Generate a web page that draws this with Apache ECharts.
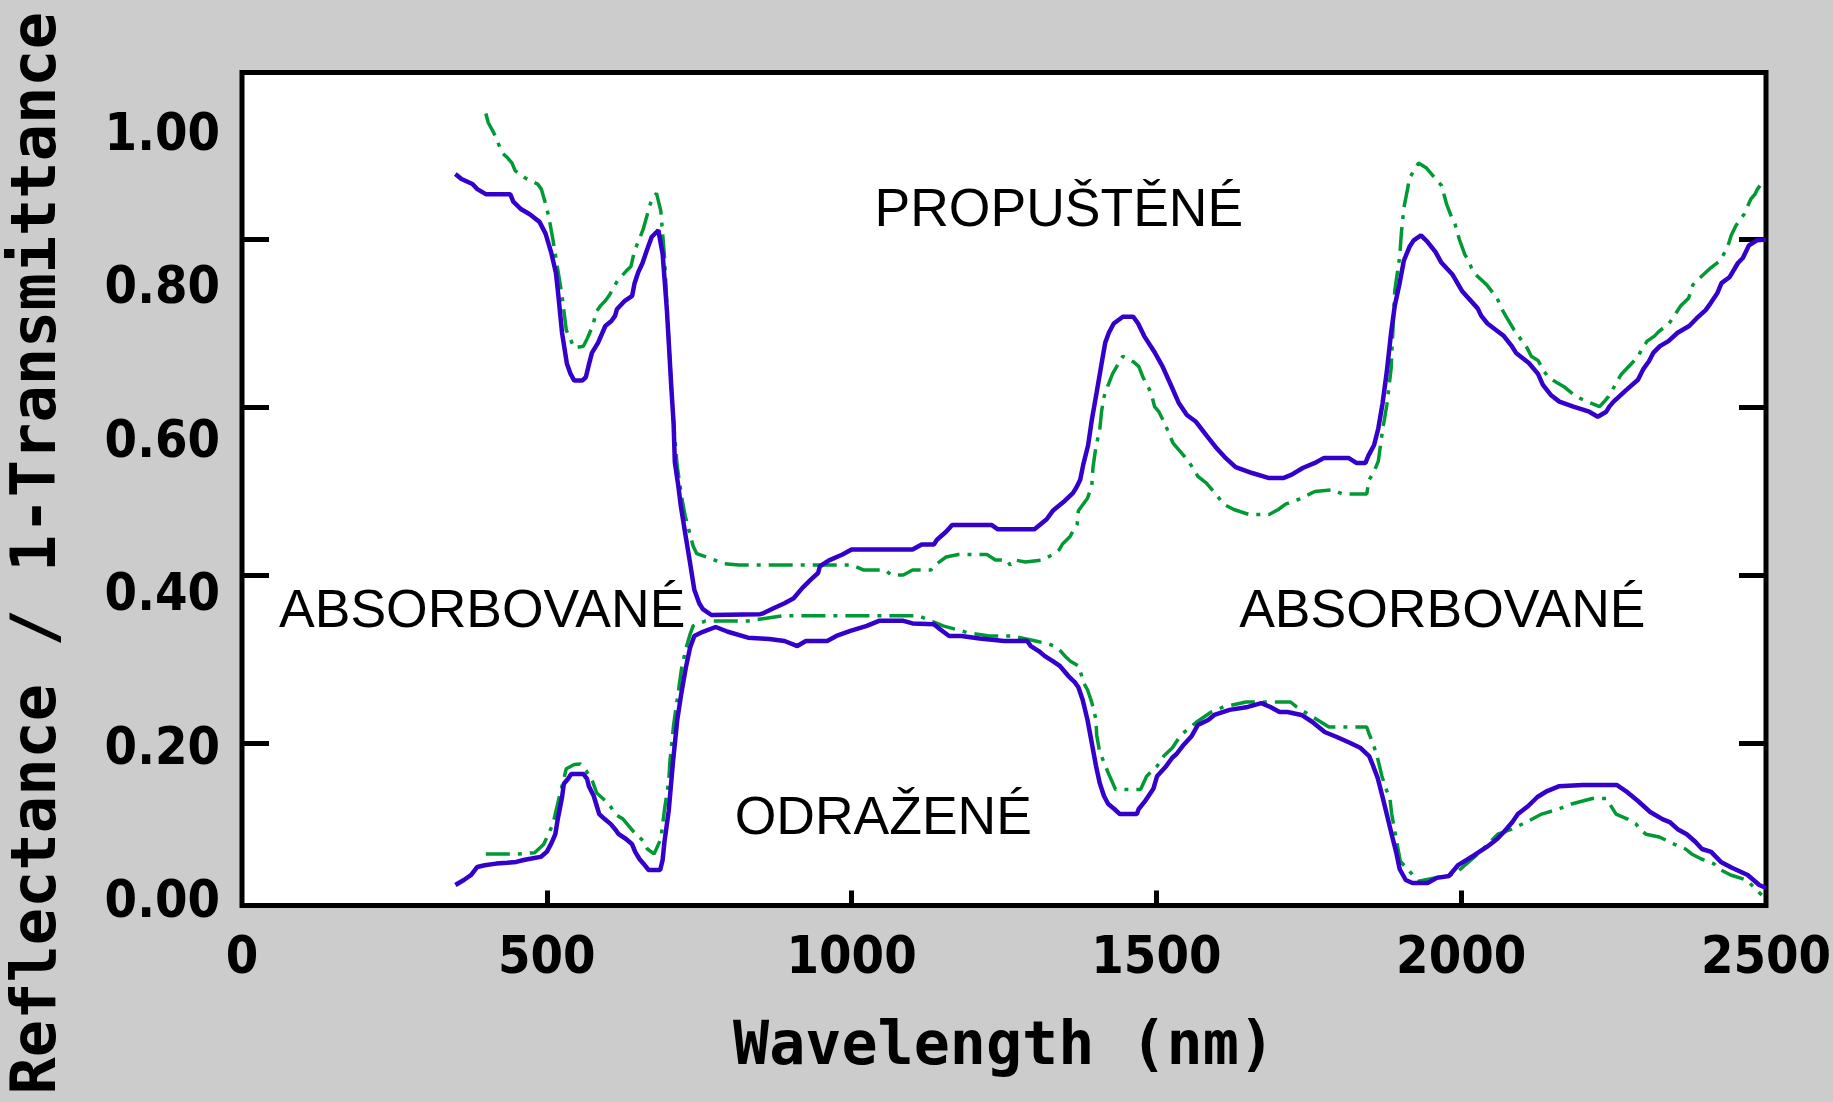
<!DOCTYPE html>
<html><head><meta charset="utf-8">
<script src="https://cdn.jsdelivr.net/npm/echarts@6/dist/echarts.min.js"></script>
<style>html,body{margin:0;padding:0;background:#cccccc;}#c{width:1833px;height:1102px;}</style>
</head><body><div id="c"></div><script>
// ---- data (wavelength in nm, value 0..1) ----
const transBlueWl = [350,360,378,386,400,440,445,458,472,488,498,507,515,519,525,533,539,545,558,564,568,574,584,596,606,612,615,628,640,644,650,657,664,672,683,690,697,701,704,708,710,716,720,728,735,742,750,756,770,850,855,872,890,905,919,933,945,948,963,985,1000,1100,1115,1135,1140,1155,1165,1230,1240,1300,1310,1320,1330,1350,1363,1369,1375,1380,1388,1394,1402,1410,1416,1422,1430,1445,1462,1470,1480,1496,1510,1523,1537,1550,1565,1583,1597,1612,1630,1657,1685,1708,1722,1740,1760,1775,1815,1828,1843,1848,1857,1864,1871,1878,1885,1891,1899,1906,1915,1922,1934,1945,1958,1967,1986,2002,2027,2033,2043,2063,2070,2083,2090,2111,2126,2134,2147,2161,2184,2210,2224,2238,2243,2250,2259,2271,2290,2299,2308,2315,2326,2340,2355,2374,2386,2401,2409,2420,2427,2440,2454,2462,2466,2472,2485,2500];
const transBlueVal = [0.878,0.872,0.866,0.860,0.854,0.854,0.845,0.836,0.830,0.821,0.807,0.785,0.760,0.733,0.689,0.652,0.640,0.632,0.632,0.636,0.648,0.665,0.677,0.697,0.703,0.709,0.717,0.727,0.733,0.748,0.761,0.772,0.787,0.803,0.811,0.783,0.716,0.666,0.627,0.581,0.535,0.505,0.482,0.446,0.415,0.383,0.367,0.360,0.353,0.354,0.355,0.361,0.367,0.373,0.385,0.395,0.403,0.411,0.418,0.425,0.431,0.431,0.437,0.437,0.4425,0.452,0.460,0.460,0.455,0.455,0.461,0.467,0.477,0.489,0.498,0.505,0.514,0.532,0.555,0.585,0.618,0.652,0.677,0.689,0.700,0.708,0.708,0.700,0.685,0.667,0.649,0.628,0.605,0.591,0.583,0.566,0.553,0.541,0.529,0.522,0.516,0.516,0.520,0.528,0.534,0.540,0.540,0.534,0.534,0.543,0.555,0.575,0.605,0.643,0.689,0.721,0.748,0.775,0.791,0.799,0.805,0.797,0.785,0.773,0.758,0.738,0.718,0.709,0.700,0.689,0.685,0.673,0.665,0.653,0.640,0.627,0.615,0.607,0.601,0.595,0.589,0.595,0.601,0.607,0.613,0.621,0.633,0.646,0.655,0.665,0.673,0.679,0.689,0.697,0.706,0.716,0.724,0.736,0.748,0.755,0.772,0.778,0.784,0.793,0.799,0.800];

const transGreenWl = [400,404,413,427,436,443,448,465,485,491,497,503,510,525,532,545,560,567,575,582,588,596,602,609,616,631,638,644,651,658,665,672,680,687,693,700,707,714,722,727,735,740,746,770,790,815,850,900,1000,1020,1055,1065,1085,1100,1130,1137,1155,1175,1222,1236,1255,1260,1268,1285,1313,1330,1341,1346,1358,1365,1370,1372,1387,1394,1396,1401,1407,1410,1414,1421,1428,1439,1445,1463,1471,1478,1491,1497,1504,1511,1516,1527,1541,1548,1558,1568,1582,1600,1610,1627,1652,1685,1700,1712,1733,1760,1790,1805,1845,1849,1856,1864,1871,1878,1885,1891,1899,1902,1906,1912,1915,1930,1943,1950,1968,1976,1984,1990,1997,2006,2012,2017,2024,2042,2059,2066,2073,2087,2100,2108,2115,2126,2136,2143,2156,2170,2180,2190,2208,2227,2234,2241,2248,2262,2283,2290,2297,2305,2317,2325,2341,2352,2360,2373,2380,2388,2397,2409,2425,2437,2443,2451,2464,2475,2482,2486,2493,2500];
const transGreenVal = [0.950,0.939,0.927,0.903,0.897,0.891,0.882,0.873,0.866,0.860,0.845,0.828,0.800,0.733,0.692,0.671,0.673,0.683,0.697,0.715,0.721,0.727,0.733,0.742,0.751,0.763,0.768,0.787,0.799,0.812,0.830,0.848,0.855,0.834,0.780,0.680,0.590,0.530,0.490,0.471,0.449,0.435,0.426,0.420,0.414,0.4125,0.4125,0.4125,0.4125,0.4065,0.4065,0.4006,0.4006,0.4065,0.4065,0.4125,0.422,0.425,0.425,0.4185,0.4185,0.4125,0.4185,0.416,0.4185,0.425,0.431,0.4375,0.446,0.455,0.461,0.477,0.492,0.507,0.529,0.554,0.573,0.595,0.6125,0.627,0.640,0.654,0.661,0.654,0.649,0.636,0.618,0.601,0.595,0.585,0.577,0.558,0.546,0.540,0.530,0.518,0.510,0.4946,0.485,0.4786,0.4726,0.4726,0.4786,0.485,0.4905,0.500,0.502,0.497,0.497,0.514,0.522,0.536,0.573,0.603,0.646,0.739,0.779,0.809,0.838,0.860,0.873,0.891,0.885,0.879,0.864,0.842,0.827,0.818,0.800,0.782,0.775,0.766,0.758,0.746,0.730,0.718,0.709,0.692,0.679,0.671,0.661,0.656,0.643,0.636,0.630,0.624,0.618,0.6125,0.6065,0.601,0.6065,0.6125,0.621,0.639,0.655,0.661,0.670,0.679,0.685,0.691,0.700,0.712,0.721,0.730,0.746,0.752,0.758,0.766,0.775,0.791,0.805,0.817,0.830,0.848,0.854,0.860,0.867,0.870];

const reflBlueWl = [350,364,376,386,398,417,435,450,462,475,490,500,508,514,518,525,528,535,540,560,566,569,577,582,586,595,605,612,618,630,640,645,652,659,667,686,690,693,700,707,714,721,728,735,742,756,777,797,830,865,890,911,925,960,975,998,1025,1045,1085,1100,1135,1145,1160,1180,1210,1250,1288,1294,1307,1317,1330,1342,1349,1356,1366,1372,1379,1387,1394,1401,1407,1414,1421,1431,1440,1468,1471,1481,1495,1501,1516,1526,1533,1543,1558,1568,1585,1595,1620,1650,1672,1687,1702,1715,1738,1756,1766,1776,1796,1818,1835,1849,1855,1863,1871,1879,1887,1894,1899,1909,1920,1945,1960,1980,1995,2022,2042,2059,2070,2084,2093,2110,2125,2141,2160,2200,2255,2270,2290,2310,2330,2342,2355,2370,2384,2395,2410,2426,2444,2470,2489,2500];
const reflBlueVal = [0.0315,0.0375,0.0435,0.053,0.055,0.057,0.058,0.059,0.0613,0.063,0.065,0.071,0.082,0.092,0.110,0.136,0.152,0.158,0.1637,0.1637,0.158,0.149,0.1375,0.1256,0.116,0.110,0.104,0.098,0.092,0.0863,0.080,0.071,0.0625,0.0566,0.0494,0.0494,0.0613,0.083,0.120,0.178,0.228,0.261,0.290,0.314,0.328,0.333,0.3387,0.333,0.326,0.3244,0.322,0.316,0.322,0.322,0.328,0.334,0.340,0.346,0.346,0.343,0.342,0.336,0.328,0.328,0.325,0.322,0.322,0.316,0.310,0.304,0.298,0.292,0.286,0.280,0.273,0.267,0.252,0.228,0.2006,0.173,0.153,0.1375,0.128,0.122,0.116,0.116,0.122,0.131,0.146,0.161,0.173,0.183,0.1875,0.197,0.209,0.222,0.228,0.234,0.240,0.2435,0.248,0.2435,0.2375,0.2375,0.234,0.2256,0.2196,0.2137,0.2077,0.2006,0.1946,0.185,0.1744,0.159,0.1363,0.1125,0.0887,0.0685,0.0506,0.0375,0.034,0.034,0.040,0.0423,0.0553,0.0673,0.0768,0.0863,0.0946,0.1065,0.116,0.1256,0.1363,0.1434,0.149,0.1506,0.1506,0.1434,0.1315,0.1185,0.110,0.1065,0.098,0.092,0.083,0.0744,0.071,0.059,0.052,0.0434,0.0315,0.028];

const reflGreenWl = [400,454,480,495,510,520,532,545,555,565,575,582,602,612,625,643,658,665,676,687,693,700,702,708,715,721,728,735,740,760,830,886,1110,1150,1190,1226,1264,1302,1323,1333,1343,1350,1359,1373,1380,1387,1394,1401,1402,1407,1421,1433,1474,1484,1501,1512,1526,1540,1565,1590,1610,1647,1720,1730,1783,1845,1849,1855,1862,1870,1876,1883,1886,1900,1930,1990,2030,2060,2083,2107,2132,2160,2181,2215,2238,2254,2273,2287,2293,2303,2325,2350,2368,2378,2394,2415,2426,2442,2468,2493];
const reflGreenVal = [0.0685,0.0685,0.070,0.080,0.104,0.135,0.170,0.175,0.1756,0.167,0.155,0.141,0.128,0.116,0.110,0.0946,0.084,0.0744,0.0685,0.0863,0.121,0.155,0.179,0.222,0.258,0.289,0.3125,0.330,0.340,0.3458,0.3458,0.352,0.352,0.340,0.332,0.328,0.328,0.322,0.3185,0.316,0.310,0.304,0.298,0.292,0.273,0.264,0.249,0.228,0.210,0.190,0.165,0.1452,0.1452,0.161,0.173,0.185,0.1946,0.210,0.225,0.2375,0.2435,0.2494,0.2494,0.2435,0.2196,0.2196,0.2113,0.2006,0.185,0.161,0.147,0.135,0.116,0.060,0.036,0.045,0.070,0.092,0.098,0.1065,0.116,0.122,0.128,0.1345,0.1345,0.116,0.110,0.104,0.098,0.092,0.0887,0.080,0.0744,0.0685,0.0625,0.0566,0.0494,0.0434,0.0375,0.0196];

const xTickValues = [0, 500, 1000, 1500, 2000, 2500];
const yTickValues = [0.2, 0.4, 0.6, 0.8];
const yLabelValues = [0, 0.2, 0.4, 0.6, 0.8, 1.0];
const annotationTexts = ['PROPUŠTĚNÉ', 'ABSORBOVANÉ', 'ABSORBOVANÉ', 'ODRAŽENÉ'];

// ---- layout / style ----
const annotationCoords = [[1340, 0.8335], [394, 0.356], [1969, 0.356], [1052, 0.1097]];
const BLUE = '#3300cc', GREEN = '#009933';
const tickFont = "'DejaVu Sans Condensed','DejaVu Sans',sans-serif";
const titleFont = "'DejaVu Sans Mono',monospace";

const pairs = (w, v) => w.map((x, i) => [x, v[i]]);

const chart = echarts.init(document.getElementById('c'), null, {renderer: 'canvas'});
const gridBox = {left: 242, top: 72.5, width: 1524, height: 833};

const option = {
  animation: false,
  backgroundColor: '#cccccc',
  grid: Object.assign({show: true, backgroundColor: '#ffffff', borderColor: '#000', borderWidth: 5,
    containLabel: false, outerBoundsMode: 'none'}, gridBox),
  xAxis: {
    type: 'value', min: 0, max: 2500, interval: 500,
    axisLine: {show: false},
    axisTick: {show: true, inside: true, length: 13, lineStyle: {color: '#000', width: 5}, customValues: xTickValues.slice(1, -1)},
    splitLine: {show: false},
    axisLabel: {color: '#000', fontFamily: tickFont, fontWeight: 'bold', fontSize: 52, margin: 28,
      customValues: xTickValues, formatter: v => String(v)},
    name: 'Wavelength (nm)', nameLocation: 'middle', nameGap: 113,
    nameTextStyle: {color: '#000', fontFamily: titleFont, fontWeight: 'bold', fontSize: 60}
  },
  yAxis: [
    { // data axis: tick positions
      type: 'value', min: 0.00714, max: 0.99881, position: 'left',
      axisLine: {show: false}, splitLine: {show: false}, axisLabel: {show: false},
      axisTick: {show: true, inside: true, length: 27, lineStyle: {color: '#000', width: 5}, customValues: yTickValues}
    },
    { // label axis of the original plot (its labels sit slightly off the ticks)
      type: 'value', min: -0.00274, max: 1.0833, position: 'left',
      axisLine: {show: false}, splitLine: {show: false}, axisTick: {show: false},
      axisLabel: {show: true, color: '#000', fontFamily: tickFont, fontWeight: 'bold', fontSize: 52, margin: 22,
        customValues: yLabelValues, formatter: v => v.toFixed(2)}
    },
    { // right side ticks
      type: 'value', min: 0.00714, max: 0.99881, position: 'right',
      axisLine: {show: false}, splitLine: {show: false}, axisLabel: {show: false},
      axisTick: {show: true, inside: true, length: 27, lineStyle: {color: '#000', width: 5}, customValues: yTickValues}
    }
  ],
  graphic: [{
    type: 'text', left: 8, top: 12, rotation: Math.PI / 2,
    style: {text: 'Reflectance / 1-Transmittance', fill: '#000', font: "bold 62px 'DejaVu Sans Mono', monospace"}
  }],
  series: [
    {name: '1-T green', type: 'line', data: pairs(transGreenWl, transGreenVal), showSymbol: false, symbol: 'none',
      lineStyle: {color: GREEN, width: 3.5, type: [24, 8, 4, 8]}, z: 2,
      markPoint: {symbol: 'circle', symbolSize: 0, silent: true,
        label: {show: true, position: 'inside', color: '#000', fontFamily: "'Liberation Sans', Arial, sans-serif", fontSize: 53.5, formatter: p => p.name},
        data: annotationTexts.map((t, i) => ({name: t, coord: annotationCoords[i]}))}
    },
    {name: 'R green', type: 'line', data: pairs(reflGreenWl, reflGreenVal), showSymbol: false, symbol: 'none',
      lineStyle: {color: GREEN, width: 3.5, type: [24, 8, 4, 8]}, z: 2},
    {name: '1-T blue', type: 'line', data: pairs(transBlueWl, transBlueVal), showSymbol: false, symbol: 'none',
      lineStyle: {color: BLUE, width: 4.5}, z: 3},
    {name: 'R blue', type: 'line', data: pairs(reflBlueWl, reflBlueVal), showSymbol: false, symbol: 'none',
      lineStyle: {color: BLUE, width: 4.5}, z: 3}
  ]
};
chart.setOption(option);
</script></body></html>
